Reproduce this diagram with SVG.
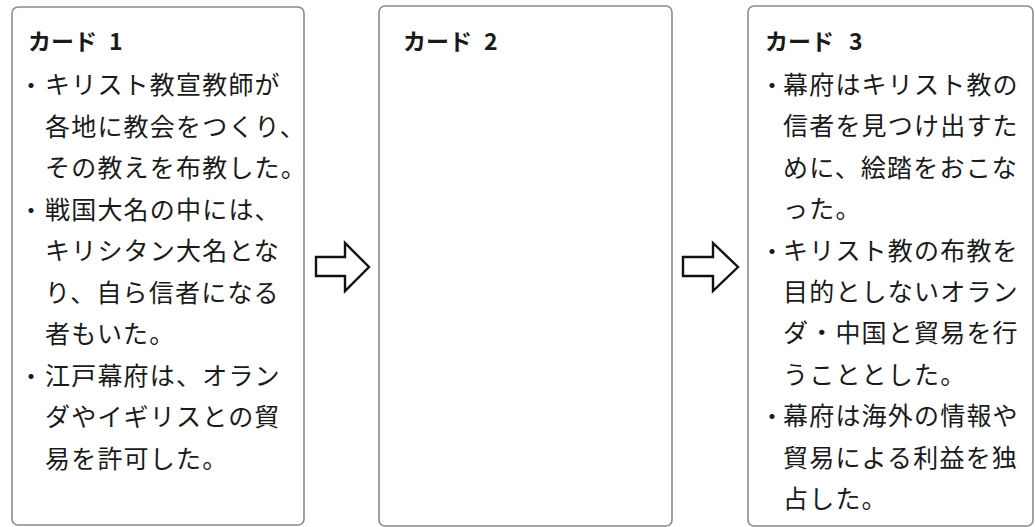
<svg xmlns="http://www.w3.org/2000/svg" width="1035" height="527" viewBox="0 0 1035 527">
<style>
.card{fill:#fff;stroke:#8a8a8a;stroke-width:1.6}
.title{font-family:"Noto Sans CJK JP","Noto Sans",sans-serif;font-weight:700;font-size:23px;fill:#1a1a1a}
.body{font-family:"Noto Sans CJK JP","Noto Sans",sans-serif;font-size:25px;letter-spacing:1.2px;fill:#1a1a1a}
.bul{font-family:"Noto Sans CJK JP",sans-serif;font-size:24px;fill:#1a1a1a;text-anchor:middle}
.arrow{fill:#fff;stroke:#111;stroke-width:2.4;stroke-linejoin:miter}
</style>
<rect width="1035" height="527" fill="#fff"/>
<g id="card1">
<rect class="card" x="12" y="7" width="292" height="518" rx="6"/>
<text class="title" x="28" y="50">カード<tspan x="109">1</tspan></text>
<text class="bul" x="31" y="94">・</text>
<text class="bul" x="31" y="218.5">・</text>
<text class="bul" x="31" y="384.5">・</text>
<text class="body">
<tspan x="45" y="94">キリスト教宣教師が</tspan>
<tspan x="45" y="135.5">各地に教会をつくり、</tspan>
<tspan x="45" y="177">その教えを布教した。</tspan>
<tspan x="45" y="218.5">戦国大名の中には、</tspan>
<tspan x="45" y="260">キリシタン大名とな</tspan>
<tspan x="45" y="301.5">り、自ら信者になる</tspan>
<tspan x="45" y="343">者もいた。</tspan>
<tspan x="45" y="384.5">江戸幕府は、オラン</tspan>
<tspan x="45" y="426">ダやイギリスとの貿</tspan>
<tspan x="45" y="467.5">易を許可した。</tspan>
</text>
</g>
<g id="card2">
<rect class="card" x="379" y="6" width="293" height="520" rx="6"/>
<text class="title" x="403" y="50">カード<tspan x="484">2</tspan></text>
</g>
<g id="card3">
<rect class="card" x="748" y="6" width="285" height="520" rx="6"/>
<text class="title" x="765" y="50">カード<tspan x="849">3</tspan></text>
<text class="bul" x="772" y="94">・</text>
<text class="bul" x="772" y="259.6">・</text>
<text class="bul" x="772" y="425.2">・</text>
<text class="body">
<tspan x="783" y="94">幕府はキリスト教の</tspan>
<tspan x="783" y="135.4">信者を見つけ出すた</tspan>
<tspan x="783" y="176.8">めに、絵踏をおこな</tspan>
<tspan x="783" y="218.2">った。</tspan>
<tspan x="783" y="259.6">キリスト教の布教を</tspan>
<tspan x="783" y="301">目的としないオラン</tspan>
<tspan x="783" y="342.4">ダ・中国と貿易を行</tspan>
<tspan x="783" y="383.8">うこととした。</tspan>
<tspan x="783" y="425.2">幕府は海外の情報や</tspan>
<tspan x="783" y="466.6">貿易による利益を独</tspan>
<tspan x="783" y="508">占した。</tspan>
</text>
</g>
<g id="connectors">
<polygon class="arrow" points="316,257 345,257 345,243 369,267 345,291 345,276 316,276"/>
<polygon class="arrow" points="683,257 713,257 713,243 738,267 713,291 713,276 683,276"/>
</g>
</svg>
